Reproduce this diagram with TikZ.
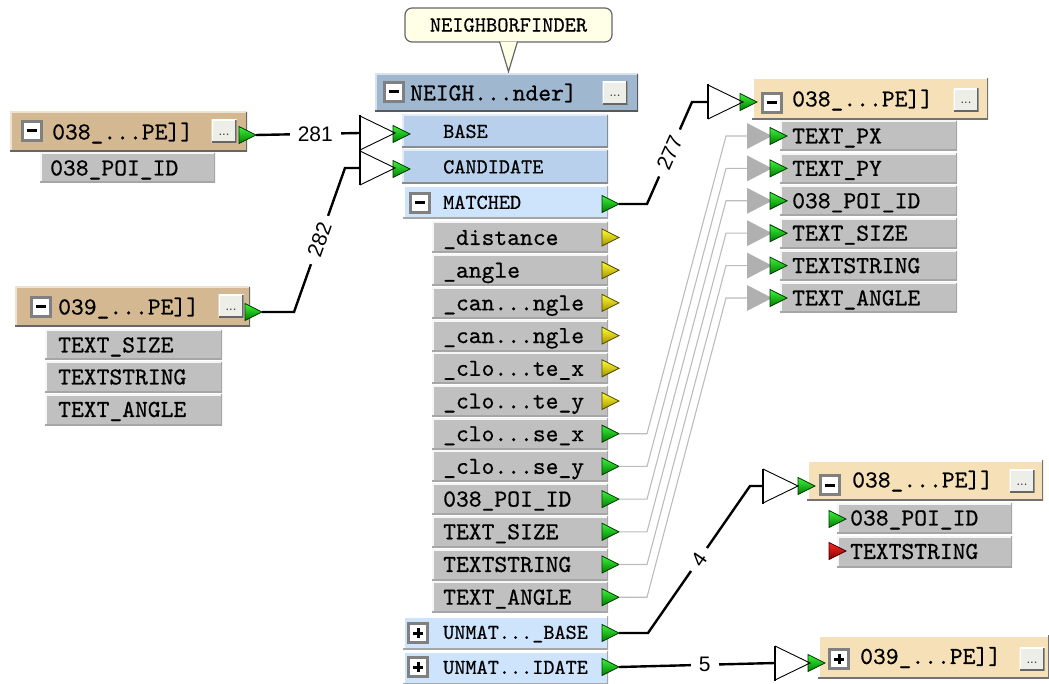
\documentclass[tikz,border=0pt]{standalone}
\usepackage{fontspec}
\newfontfamily\monof{lmmono10-regular.otf}[FakeBold=0.6]
\newfontfamily\sansf{Liberation Sans}
\usetikzlibrary{calc}

\definecolor{hdrblue}{RGB}{160,183,208}
\definecolor{inblue}{RGB}{184,208,236}
\definecolor{outblue}{RGB}{206,228,252}
\definecolor{srctan}{RGB}{212,184,146}
\definecolor{dsttan}{RGB}{246,224,184}
\definecolor{attrgrey}{RGB}{192,192,192}
\definecolor{callfill}{RGB}{255,255,232}
\definecolor{btnfill}{RGB}{238,238,232}
\definecolor{wiregrey}{RGB}{188,188,188}
\definecolor{tipgrey}{RGB}{176,176,176}

\tikzset{
  bevel/.style 2 args={path picture={
    \draw[#1,line width=3pt] (path picture bounding box.south west) -- (path picture bounding box.north west) -- (path picture bounding box.north east);
    \draw[#2,line width=3pt] (path picture bounding box.north east) -- (path picture bounding box.south east) -- (path picture bounding box.south west);}},
  fmbox/.style={rectangle, inner sep=0pt, outer sep=0pt},
  hdrmain/.style={fmbox, fill=hdrblue, bevel={white!60!hdrblue}{black!65}},
  hdrsrc/.style={fmbox, fill=srctan, bevel={white!60!srctan}{black!60}},
  hdrdst/.style={fmbox, fill=dsttan, bevel={white}{black!55}},
  inrow/.style={fmbox, fill=inblue, bevel={white!60!inblue}{black!45}},
  outrow/.style={fmbox, fill=outblue, bevel={white}{black!35}},
  attr/.style={fmbox, fill=attrgrey, bevel={white!85!attrgrey}{black!35}},
  txt/.style={inner sep=0pt, font=\monof\fontsize{24.4}{24.4}\selectfont, text height=15.9pt, text depth=1pt},
  txtsm/.style={inner sep=0pt, font=\monof\fontsize{21.2}{21.2}\selectfont, text height=13.8pt, text depth=1pt},
  tog/.style={fmbox, minimum width=19pt, minimum height=19pt, fill=white, draw=black!50, line width=2.5pt},
  togminus/.style={tog, path picture={
    \fill[black] ([xshift=-5pt,yshift=-1.5pt]path picture bounding box.center) rectangle ([xshift=5pt,yshift=1.5pt]path picture bounding box.center);}},
  togplus/.style={tog, path picture={
    \fill[black] ([xshift=-5pt,yshift=-1.5pt]path picture bounding box.center) rectangle ([xshift=5pt,yshift=1.5pt]path picture bounding box.center);
    \fill[black] ([xshift=-1.5pt,yshift=-5pt]path picture bounding box.center) rectangle ([xshift=1.5pt,yshift=5pt]path picture bounding box.center);}},
  btn/.style={fmbox, minimum width=25pt, minimum height=23pt, fill=btnfill, bevel={white}{black!60},
    font=\sansf\fontsize{13}{13}\selectfont, text height=8pt, text depth=0pt, text=black!75},
  callbox/.style={draw=black!60, line width=1.2pt, fill=callfill, rounded corners=7pt,
    minimum width=207pt, minimum height=34pt, inner sep=0pt, font=\monof\fontsize{21.4}{21.4}\selectfont},
  portg/.style={top color={rgb,255:red,60;green,245;blue,60}, bottom color={rgb,255:red,0;green,125;blue,0},
    draw={rgb,255:red,0;green,55;blue,0}, line width=0.8pt, line join=miter},
  porty/.style={top color={rgb,255:red,255;green,255;blue,50}, bottom color={rgb,255:red,165;green,145;blue,0},
    draw={rgb,255:red,80;green,70;blue,0}, line width=0.8pt, line join=miter},
  portr/.style={top color={rgb,255:red,255;green,40;blue,40}, bottom color={rgb,255:red,135;green,0;blue,0},
    draw={rgb,255:red,70;green,0;blue,0}, line width=0.8pt, line join=miter},
  wire/.style={draw=black, line width=2.4pt},
  fadewire/.style={draw=wiregrey, line width=1.1pt},
  wlabel/.style={fill=white, inner xsep=8pt, inner ysep=2pt, font=\sansf\fontsize{21}{21}\selectfont},
}

% box with its caption: name, x1, y1, x2, y2, box style, caption x, caption style, caption
\newcommand\fmrow[9]{%
  \node[#6, anchor=north west, minimum width={(#4-#2)*1pt}, minimum height={(#5-#3)*1pt}] (#1) at (#2,#3) {};%
  \node[#8, anchor=west] (#1-t) at (#7,{(#3+#5)/2}) {#9};%
}
% port triangle: name, left x, centre y, style
\newcommand\fmport[4]{%
  \coordinate (#1) at (#2,#3);%
  \coordinate (#1-o) at ({#2+17},#3);%
  \shadedraw[#4] (#2,{#3-8.5}) -- ({#2+17},#3) -- (#2,{#3+8.5}) -- cycle;%
}
% open triangle where a link enters a port: name, base x, centre y
\newcommand\junction[3]{%
  \coordinate (#1) at (#2,#3);%
  \draw[line width=0.9pt] (#2,{#3-17}) -- ({#2+35},#3) -- (#2,{#3+17});%
  \draw[line width=2pt] (#2,{#3-17.5}) -- (#2,{#3+17.5});%
}
% grey arrow of an attribute link: name, base x, centre y
\newcommand\greytip[3]{%
  \coordinate (#1) at (#2,#3);%
  \fill[tipgrey] (#2,{#3-13}) -- ({#2+25},#3) -- (#2,{#3+13}) -- cycle;%
}
\newcommand\mainattr[3]{%
  \pgfmathsetmacro\fmtop{222+32.7*#1}%
  \pgfmathsetmacro\fmbot{\fmtop+31}%
  \pgfmathsetmacro\fmmid{\fmtop+15.5}%
  \fmrow{na#1}{432}{\fmtop}{608}{\fmbot}{attr}{443}{txt}{#2}%
  \fmport{np#1}{602}{\fmmid}{#3}%
}
\newcommand\dstattr[2]{%
  \pgfmathsetmacro\fmtop{121+32.4*#1}%
  \pgfmathsetmacro\fmbot{\fmtop+30}%
  \pgfmathsetmacro\fmmid{\fmtop+15}%
  \fmrow{da#1}{780}{\fmtop}{957}{\fmbot}{attr}{792}{txt}{#2}%
  \greytip{g#1}{747}{\fmmid}%
  \fmport{dp#1}{770}{\fmmid}{portg}%
}

\begin{document}
\begin{tikzpicture}[x=1pt,y=-1pt]
\useasboundingbox (0,0) rectangle (1049,684);

% balloon with the transformer name
\node[callbox] (nfnote) at (508.5,25) {NEIGHBORFINDER};
\filldraw[fill=callfill, draw=black!60, line width=1.2pt]
  ([xshift=-9pt,yshift=1pt]nfnote.south) -- ([yshift=-29pt]nfnote.south) -- ([xshift=9pt,yshift=1pt]nfnote.south);

% NeighborFinder transformer
\fmrow{nfh}{375}{74}{638}{112}{hdrmain}{410}{txt}{NEIGH...nder]}
\node[togminus] (nfh-tog) at (394,92) {};
\node[btn] (nfh-btn) at (615,93) {...};
\fmrow{nfbase}{402}{115}{608}{148}{inrow}{443}{txtsm}{BASE}
\fmrow{nfcand}{402}{150}{608}{184}{inrow}{443}{txtsm}{CANDIDATE}
\fmrow{nfmatch}{403}{186}{608}{219}{outrow}{443}{txtsm}{MATCHED}
\node[togminus] (nfmatch-tog) at (420,203) {};
\mainattr{0}{\_distance}{porty}
\mainattr{1}{\_angle}{porty}
\mainattr{2}{\_can...ngle}{porty}
\mainattr{3}{\_can...ngle}{porty}
\mainattr{4}{\_clo...te\_x}{porty}
\mainattr{5}{\_clo...te\_y}{porty}
\mainattr{6}{\_clo...se\_x}{portg}
\mainattr{7}{\_clo...se\_y}{portg}
\mainattr{8}{038\_POI\_ID}{portg}
\mainattr{9}{TEXT\_SIZE}{portg}
\mainattr{10}{TEXTSTRING}{portg}
\mainattr{11}{TEXT\_ANGLE}{portg}
\fmrow{nfub}{403}{616}{608}{649}{outrow}{443}{txtsm}{UNMAT...\_BASE}
\node[togplus] (nfub-tog) at (418,633) {};
\fmrow{nfuc}{403}{651}{608}{684}{outrow}{443}{txtsm}{UNMAT...IDATE}
\node[togplus] (nfuc-tog) at (418,667) {};
\fmport{nfin1}{393}{134}{portg}
\fmport{nfin2}{393}{169}{portg}
\fmport{nfmo}{602}{204}{portg}
\fmport{nfubo}{602}{633}{portg}
\fmport{nfuco}{602}{667}{portg}

% source feature type 038
\fmrow{s1h}{10}{112}{247}{152}{hdrsrc}{52}{txt}{038\_...PE]]}
\node[togminus] (s1h-tog) at (32,131) {};
\node[btn] (s1h-btn) at (224,131.5) {...};
\fmrow{s1a}{40}{153}{215}{183}{attr}{50}{txt}{038\_POI\_ID}
\fmport{s1o}{239}{135}{portg}

% source feature type 039
\fmrow{s2h}{15}{287}{250}{327}{hdrsrc}{58}{txt}{039\_...PE]]}
\node[togminus] (s2h-tog) at (41,307) {};
\node[btn] (s2h-btn) at (231,306.5) {...};
\fmrow{s2a1}{45}{330}{222}{360}{attr}{58}{txt}{TEXT\_SIZE}
\fmrow{s2a2}{45}{362}{222}{392}{attr}{58}{txt}{TEXTSTRING}
\fmrow{s2a3}{45}{394}{222}{425}{attr}{58}{txt}{TEXT\_ANGLE}
\fmport{s2o}{245}{312}{portg}

% destination feature type 038 (matched)
\fmrow{d1h}{752}{78}{988}{120}{hdrdst}{792}{txt}{038\_...PE]]}
\node[togminus] (d1h-tog) at (772,103) {};
\node[btn] (d1h-btn) at (966,100) {...};
\dstattr{0}{TEXT\_PX}
\dstattr{1}{TEXT\_PY}
\dstattr{2}{038\_POI\_ID}
\dstattr{3}{TEXT\_SIZE}
\dstattr{4}{TEXTSTRING}
\dstattr{5}{TEXT\_ANGLE}
\fmport{d1in}{740}{102}{portg}

% destination feature type 038 (unmatched base)
\fmrow{d2h}{807}{460}{1043}{500}{hdrdst}{852}{txt}{038\_...PE]]}
\node[togminus] (d2h-tog) at (830,485) {};
\node[btn] (d2h-btn) at (1022,481) {...};
\fmrow{d2a1}{837}{503}{1012}{533}{attr}{850}{txt}{038\_POI\_ID}
\fmrow{d2a2}{837}{536}{1012}{567}{attr}{850}{txt}{TEXTSTRING}
\fmport{d2p1}{829}{519}{portg}
\fmport{d2p2}{829}{551}{portr}
\fmport{d2in}{798}{486}{portg}

% destination feature type 039 (unmatched candidate)
\fmrow{d3h}{818}{635}{1049}{678}{hdrdst}{860}{txt}{039\_...PE]]}
\node[togplus] (d3h-tog) at (839,659) {};
\node[btn] (d3h-btn) at (1032,659) {...};
\fmport{d3in}{808}{663}{portg}

% link entry triangles
\junction{j281}{360}{133}
\junction{j282}{360}{168}
\junction{j277}{708}{102}
\junction{j4}{763}{486}
\junction{j5}{775}{663}

% feature links
\draw[wire] (s1o-o) -- node[wlabel,pos=0.57]{281} (j281);
\draw[wire] (s2o-o) -- ++(32,0) -- node[wlabel,sloped]{282} ([xshift=-15pt]j282) -- (j282);
\draw[wire] (nfmo-o) -- ++(28,0) -- node[wlabel,sloped]{277} ([xshift=-16pt]j277) -- (j277);
\draw[wire] (nfubo-o) -- ++(29,0) -- node[wlabel,sloped]{4} ([xshift=-13pt]j4) -- (j4);
\draw[wire] (nfuco-o) -- node[wlabel,pos=0.55]{5} (j5);

% attribute links
\foreach \a/\b in {6/0,7/1,8/2,9/3,10/4,11/5}
  \draw[fadewire] (np\a-o) -- ++(28,0) -- ([xshift=-21pt]g\b) -- (g\b);
\end{tikzpicture}
\end{document}
